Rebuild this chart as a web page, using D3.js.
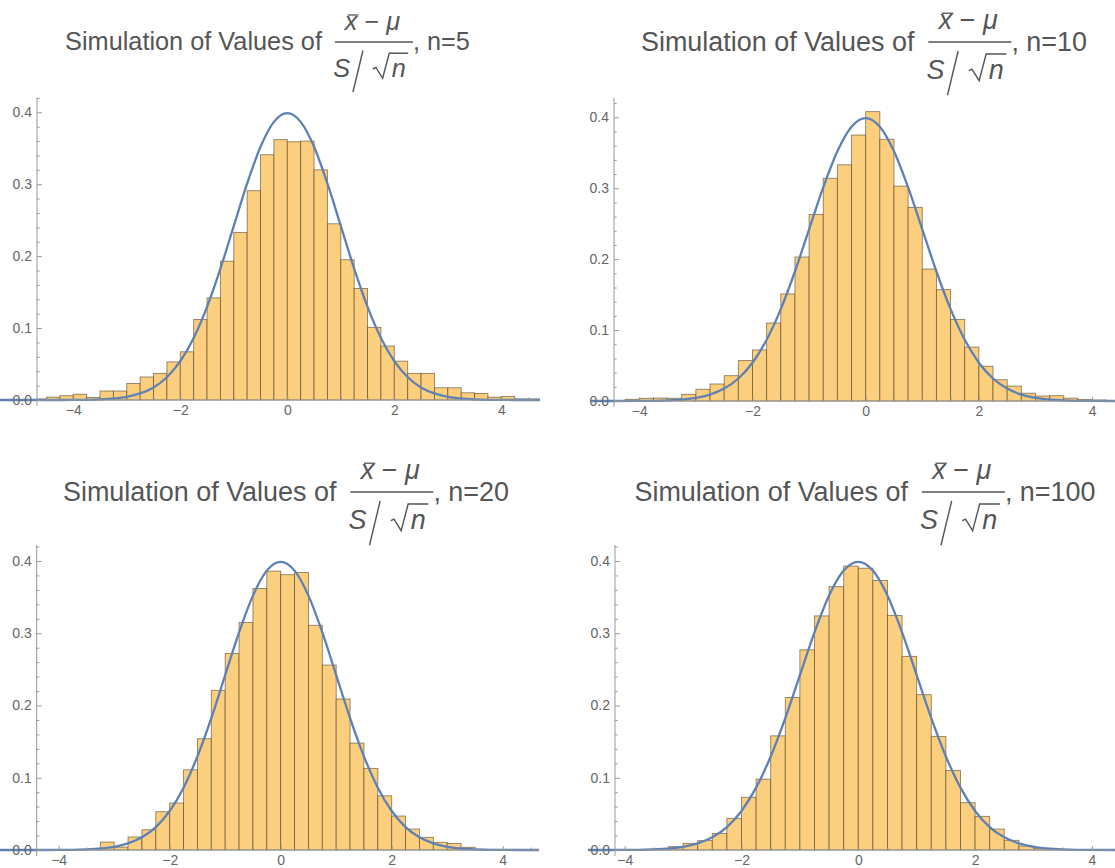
<!DOCTYPE html>
<html>
<head>
<meta charset="utf-8">
<script src="https://cdn.jsdelivr.net/npm/d3@7"></script>
<style>
  body { margin: 0; background: #fff; }
  svg { display: block; font-family: "Liberation Sans", Arial, sans-serif; }
</style>
</head>
<body>
<svg width="1115" height="868"></svg>
<script>
// left edges of the histogram bins (width 0.25)
const BIN_STARTS = [-4.75, -4.5, -4.25, -4, -3.75, -3.5, -3.25, -3, -2.75, -2.5, -2.25, -2, -1.75, -1.5, -1.25, -1,
  -0.75, -0.5, -0.25, 0, 0.25, 0.5, 0.75, 1, 1.25, 1.5, 1.75, 2, 2.25, 2.5, 2.75, 3, 3.25, 3.5, 3.75, 4, 4.25, 4.5];
const BIN_WIDTH = 0.25;

// densities
const SIM_N5 = [0.0014, 0.004, 0.006, 0.008, 0.0035, 0.0125, 0.0125, 0.023, 0.032, 0.037, 0.053, 0.067, 0.112, 0.142, 0.193, 0.233,
  0.291, 0.341, 0.362, 0.359, 0.360, 0.320, 0.245, 0.195, 0.155, 0.101, 0.075, 0.054, 0.037, 0.037, 0.017, 0.017, 0.010, 0.009, 0.004, 0.005, 0.0015, 0.0015];
const SIM_N10 = [0, 0, 0.0024, 0.0038, 0.0042, 0.0038, 0.0094, 0.0165, 0.024, 0.0357, 0.057, 0.072, 0.110, 0.151, 0.203, 0.263,
  0.314, 0.333, 0.375, 0.408, 0.369, 0.303, 0.273, 0.186, 0.157, 0.115, 0.076, 0.049, 0.030, 0.021, 0.011, 0.007, 0.0075, 0.004, 0.002, 0.0014, 0.0005, 0];
const SIM_N20 = [0, 0, 0, 0.0005, 0.0008, 0.001, 0.011, 0.004, 0.018, 0.028, 0.053, 0.065, 0.111, 0.154, 0.221, 0.272,
  0.315, 0.362, 0.386, 0.381, 0.384, 0.311, 0.256, 0.209, 0.148, 0.113, 0.075, 0.047, 0.029, 0.0175, 0.0106, 0.009, 0.0037, 0.001, 0.0008, 0.0008, 0.0005, 0.0005];
const SIM_N100 = [0, 0, 0, 0.0005, 0.001, 0.002, 0.0046, 0.0092, 0.013, 0.023, 0.0438, 0.073, 0.098, 0.158, 0.211, 0.277,
  0.324, 0.3645, 0.393, 0.390, 0.373, 0.3245, 0.268, 0.215, 0.157, 0.110, 0.0655, 0.0466, 0.029, 0.0134, 0.0055, 0.0023, 0.001, 0.0005, 0, 0, 0, 0];

const SAMPLE_SIZES = ["5", "10", "20", "100"];

// blue density curve
const CURVE_X = [-5.5, -4.5, -4, -3.5, -3, -2.75, -2.5, -2.25, -2, -1.75, -1.5, -1.25, -1, -0.75, -0.5, -0.25,
  0, 0.25, 0.5, 0.75, 1, 1.25, 1.5, 1.75, 2, 2.25, 2.5, 2.75, 3, 3.5, 4, 4.5, 5.5];
const CURVE_Y = [0, 0, 0.0001, 0.0009, 0.0044, 0.0091, 0.0175, 0.0317, 0.054, 0.0863, 0.1295, 0.1826, 0.242, 0.3011, 0.3521, 0.3867,
  0.3989, 0.3867, 0.3521, 0.3011, 0.242, 0.1826, 0.1295, 0.0863, 0.054, 0.0317, 0.0175, 0.0091, 0.0044, 0.0009, 0.0001, 0, 0];

const X_TICKS = [-4, -2, 0, 2, 4];
const Y_TICKS = [0, 0.1, 0.2, 0.3, 0.4];

const BAR_FILL = "#fccf7e";
const CURVE_COLOR = "#5e81b5";
const AXIS_COLOR = "#999";
const LABEL_COLOR = "#666";
const TITLE_COLOR = "#555";

// the four sub-images are not all drawn at the same scale (k)
const PANELS = [
  {data: SIM_N5,   xDomain: [-4.678, 4.723], left: 37,   right: 540,  y0: 400, y4: 112.3, yTop: 97.7, curveLeft: 0,   cx: 267.5, base: 50,  k: 1},
  {data: SIM_N10,  xDomain: [-4.447, 4.405], left: 614,  right: 1115, y0: 401, y4: 117.3, yTop: 97.7, curveLeft: 591, cx: 864,   base: 50.5, k: 1.065},
  {data: SIM_N20,  xDomain: [-4.396, 4.654], left: 36.7, right: 539,  y0: 850, y4: 561,   yTop: 545,  curveLeft: 0,   cx: 286,   base: 500.5, k: 1.065},
  {data: SIM_N100, xDomain: [-4.166, 4.396], left: 615,  right: 1115, y0: 850, y4: 561,   yTop: 545,  curveLeft: 588, cx: 865,   base: 500.5, k: 1.065}
];

const svg = d3.select("svg");
const defs = svg.append("defs");

function drawPanel(p, i) {
  const x = d3.scaleLinear().domain(p.xDomain).range([p.left, p.right]);
  const y = d3.scaleLinear().domain([0, 0.4]).range([p.y0, p.y4]);
  const g = svg.append("g");

  defs.append("clipPath").attr("id", "bars" + i)
    .append("rect").attr("x", p.left).attr("y", p.yTop - 20)
    .attr("width", p.right - p.left).attr("height", p.y0 - p.yTop + 22);
  defs.append("clipPath").attr("id", "curve" + i)
    .append("rect").attr("x", p.curveLeft).attr("y", p.yTop - 20)
    .attr("width", p.right - p.curveLeft).attr("height", p.y0 - p.yTop + 24);

  const bins = BIN_STARTS.map((s, k) => ({start: s, value: p.data[k]})).filter(d => d.value > 0);

  g.append("g").attr("clip-path", `url(#bars${i})`)
    .selectAll(".bar")
    .data(bins)
    .enter()
    .append("rect")
    .classed("bar", true)
    .attr("x", d => x(d.start))
    .attr("width", d => x(d.start + BIN_WIDTH) - x(d.start))
    .attr("y", d => y(d.value))
    .attr("height", d => p.y0 - y(d.value))
    .attr("fill", BAR_FILL)
    .attr("stroke", "rgb(70,55,30)")
    .attr("stroke-opacity", 0.6)
    .attr("stroke-width", 0.9);

  const pts = CURVE_X.map((v, k) => [v, CURVE_Y[k]]);
  const line = d3.line().x(d => x(d[0])).y(d => y(d[1])).curve(d3.curveMonotoneX);
  g.append("path")
    .attr("clip-path", `url(#curve${i})`)
    .attr("d", line(pts))
    .attr("fill", "none")
    .attr("stroke", CURVE_COLOR)
    .attr("stroke-width", 2.3);

  // axes
  const yMinor = d3.range(0.02, 0.43, 0.02).filter(v => Math.abs(v * 10 - Math.round(v * 10)) > 1e-6 && y(v) >= p.yTop - 0.5);
  const xMinor = d3.range(-4.5, 4.51, 0.5).filter(v => v % 2 !== 0 && v >= p.xDomain[0] && v <= p.xDomain[1]);

  const ax = g.append("g").attr("color", AXIS_COLOR);
  ax.append("line")
    .attr("x1", p.left).attr("x2", p.left)
    .attr("y1", p.y0 + 6).attr("y2", p.yTop)
    .attr("stroke", AXIS_COLOR);
  ax.append("line")
    .attr("x1", p.left).attr("x2", p.right)
    .attr("y1", p.y0).attr("y2", p.y0)
    .attr("stroke", AXIS_COLOR);

  ax.append("g")
    .attr("transform", `translate(${p.left},0)`)
    .call(d3.axisLeft(y).tickValues(Y_TICKS).tickFormat(d3.format(".1f")).tickSize(-5).tickPadding(5));
  ax.append("g")
    .attr("transform", `translate(${p.left},0)`)
    .call(d3.axisLeft(y).tickValues(yMinor).tickFormat("").tickSize(-2.7));

  ax.append("g")
    .attr("transform", `translate(0,${p.y0})`)
    .call(d3.axisBottom(x).tickValues(X_TICKS.filter(v => v >= p.xDomain[0])).tickSize(-4).tickPadding(5));
  ax.append("g")
    .attr("transform", `translate(0,${p.y0})`)
    .call(d3.axisBottom(x).tickValues(xMinor).tickFormat("").tickSize(-2.5));

  ax.selectAll(".domain").remove();
  ax.selectAll("text")
    .attr("fill", LABEL_COLOR)
    .attr("font-size", 14)
    .attr("font-family", "'Liberation Sans', Arial, sans-serif");

  drawTitle(p, SAMPLE_SIZES[i]);
}

function drawTitle(p, n) {
  const k = p.k;
  const fs = 25.3 * k;
  const t = svg.append("g").attr("fill", TITLE_COLOR);
  const lead = t.append("text").attr("font-size", fs).text("Simulation of Values of");
  const tail = t.append("text").attr("font-size", fs).text(", n=" + n);
  const leadW = lead.node().getComputedTextLength();
  const tailW = tail.node().getComputedTextLength();
  const gap = 13 * k, fracW = 78 * k;
  const x0 = p.cx - (leadW + gap + fracW + tailW) / 2;
  const fx = x0 + leadW + gap;
  const b = p.base;

  lead.attr("x", x0).attr("y", b);
  tail.attr("x", fx + fracW).attr("y", b);

  // numerator
  const num = t.append("text")
    .attr("font-size", fs)
    .attr("text-anchor", "middle")
    .attr("x", fx + 37.5 * k)
    .attr("y", b - 20.5 * k);
  num.append("tspan").attr("font-style", "italic").text("x");
  num.append("tspan").text(" \u2212 ");
  num.append("tspan").attr("font-style", "italic").text("\u03bc");
  const numW = num.node().getComputedTextLength();
  const xW = num.node().getSubStringLength(0, 1);
  const nl = fx + 37.5 * k - numW / 2;
  t.append("line")
    .attr("x1", nl + 3 * k).attr("x2", nl + xW + 1 * k)
    .attr("y1", b - 35 * k).attr("y2", b - 35 * k)
    .attr("stroke", TITLE_COLOR).attr("stroke-width", 1.3);

  // fraction bar
  t.append("line")
    .attr("x1", fx).attr("x2", fx + fracW)
    .attr("y1", b - 8 * k).attr("y2", b - 8 * k)
    .attr("stroke", TITLE_COLOR).attr("stroke-width", 1.4);

  // denominator
  t.append("text").attr("font-size", fs).attr("font-style", "italic")
    .attr("x", fx - 1.7 * k).attr("y", b + 27 * k).text("S");
  t.append("path")
    .attr("d", `M${fx + 28 * k},${b + 0.5 * k}L${fx + 18 * k},${b + 42 * k}`)
    .attr("stroke", TITLE_COLOR).attr("stroke-width", 1.4).attr("fill", "none");
  t.append("path")
    .attr("d", `M${fx + 38 * k},${b + 19 * k}L${fx + 41 * k},${b + 17.5 * k}L${fx + 47.7 * k},${b + 28.3 * k}` +
               `L${fx + 54.3 * k},${b + 3.3 * k}L${fx + 73.3 * k},${b + 3.3 * k}`)
    .attr("stroke", TITLE_COLOR).attr("stroke-width", 1.4).attr("fill", "none");
  t.append("text").attr("font-size", fs).attr("font-style", "italic")
    .attr("x", fx + 56.7 * k).attr("y", b + 27 * k).text("n");
}

PANELS.forEach(drawPanel);
</script>
</body>
</html>
